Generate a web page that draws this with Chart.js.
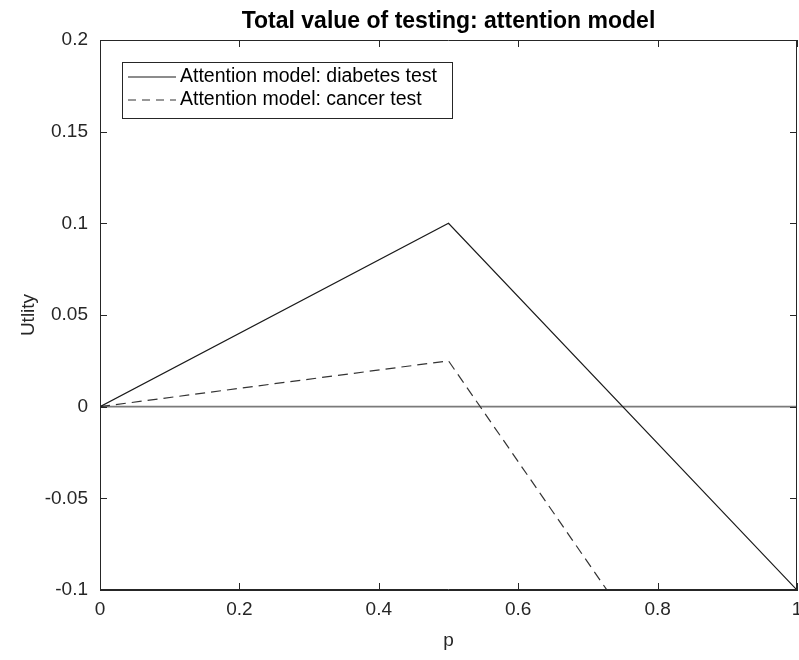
<html>
<head>
    <title>Total value of testing</title>
    <script src="https://cdn.jsdelivr.net/npm/chart.js"></script>
    <style>
        body { margin: 0; background: #fff; }
    </style>
</head>
<body>
    <canvas id="valueChart" width="799" height="660"></canvas>

    <script>
        // utility of testing vs prior probability p
        const pValues = [0, 0.5, 1];
        const diabetesUtility = [0, 0.1, -0.1];
        const cancerUtility = [0, 0.025, -0.25];
        const zeroLine = [0, 0, 0];

        const xTicks = [0, 0.2, 0.4, 0.6, 0.8, 1];
        const yTicks = [-0.1, -0.05, 0, 0.05, 0.1, 0.15, 0.2];

        const seriesNames = ['Attention model: diabetes test', 'Attention model: cancer test'];

        const fontFamily = "'Liberation Sans', Arial, Helvetica, sans-serif";
        const axisColor = '#262626';

        function toPoints(ys) {
            return pValues.map((p, i) => ({ x: p, y: ys[i] }));
        }

        // box around the axes with inward ticks on every side, plus the legend box
        const boxPlugin = {
            id: 'boxPlugin',
            afterDatasetsDraw(chart) {
                const ctx = chart.ctx;
                const area = chart.chartArea;
                const xs = chart.scales.x;
                const ys = chart.scales.y;
                const len = 7;

                ctx.save();
                ctx.strokeStyle = axisColor;
                ctx.lineWidth = 1;
                ctx.beginPath();
                ctx.rect(area.left + 0.5, area.top + 0.5, area.right - area.left - 1, area.bottom - area.top - 1);
                xTicks.forEach(v => {
                    const px = Math.round(xs.getPixelForValue(v)) + 0.5;
                    ctx.moveTo(px, area.bottom);
                    ctx.lineTo(px, area.bottom - len);
                    ctx.moveTo(px, area.top);
                    ctx.lineTo(px, area.top + len);
                });
                yTicks.forEach(v => {
                    const py = Math.round(ys.getPixelForValue(v)) + 0.5;
                    ctx.moveTo(area.left, py);
                    ctx.lineTo(area.left + len, py);
                    ctx.moveTo(area.right, py);
                    ctx.lineTo(area.right - len, py);
                });
                ctx.stroke();

                // legend
                const lx = area.left + 22;
                const ly = area.top + 22;
                const lw = 330;
                const lh = 56;
                ctx.fillStyle = '#fff';
                ctx.fillRect(lx, ly, lw, lh);
                ctx.strokeRect(lx + 0.5, ly + 0.5, lw, lh);

                ctx.font = '19.5px ' + fontFamily;
                ctx.textBaseline = 'middle';
                ctx.fillStyle = '#000';
                seriesNames.forEach((name, i) => {
                    const ds = chart.data.datasets[i];
                    const y = ly + 15 + i * 23;
                    ctx.beginPath();
                    ctx.strokeStyle = ds.borderColor;
                    ctx.lineWidth = ds.borderWidth;
                    ctx.setLineDash(ds.borderDash ? [8, 6] : []);
                    ctx.moveTo(lx + 6, y);
                    ctx.lineTo(lx + 54, y);
                    ctx.stroke();
                    ctx.setLineDash([]);
                    ctx.fillText(name, lx + 58, y);
                });
                ctx.restore();
            }
        };

        const ctx = document.getElementById('valueChart').getContext('2d');
        new Chart(ctx, {
            type: 'line',
            data: {
                datasets: [{
                    label: seriesNames[0],
                    data: toPoints(diabetesUtility),
                    borderColor: '#1a1a1a',
                    borderWidth: 1.2,
                    pointRadius: 0,
                    tension: 0
                }, {
                    label: seriesNames[1],
                    data: toPoints(cancerUtility),
                    borderColor: '#333333',
                    borderWidth: 1.2,
                    borderDash: [10, 6],
                    pointRadius: 0,
                    tension: 0
                }, {
                    label: 'zero',
                    data: toPoints(zeroLine),
                    borderColor: '#7a7a7a',
                    borderWidth: 1.6,
                    pointRadius: 0
                }]
            },
            options: {
                responsive: false,
                animation: false,
                layout: { padding: { right: 2 } },
                plugins: {
                    legend: { display: false },
                    tooltip: { enabled: false },
                    title: {
                        display: true,
                        fullSize: false,
                        text: 'Total value of testing: attention model',
                        color: '#000',
                        font: { family: fontFamily, size: 23, weight: 'bold', lineHeight: 1.2 },
                        padding: { top: 8, bottom: 4.4 }
                    }
                },
                scales: {
                    x: {
                        type: 'linear',
                        min: 0,
                        max: 1,
                        afterBuildTicks: scale => { scale.ticks = xTicks.map(v => ({ value: v })); },
                        afterFit: scale => {
                            scale.height = 70;
                            scale.paddingRight = 0;
                            scale.paddingLeft = 0;
                        },
                        grid: { drawOnChartArea: false, drawTicks: false },
                        border: { display: true, color: axisColor, width: 1 },
                        ticks: {
                            color: axisColor,
                            font: { family: fontFamily, size: 19 },
                            padding: 8,
                            maxRotation: 0,
                            callback: v => String(v)
                        },
                        title: {
                            display: true,
                            text: 'p',
                            color: axisColor,
                            font: { family: fontFamily, size: 19 },
                            padding: { top: 0, bottom: 8 }
                        }
                    },
                    y: {
                        min: -0.1,
                        max: 0.2,
                        afterBuildTicks: scale => { scale.ticks = yTicks.map(v => ({ value: v })); },
                        afterFit: scale => {
                            scale.width = 100;
                            scale.paddingTop = 0;
                            scale.paddingBottom = 0;
                        },
                        grid: { drawOnChartArea: false, drawTicks: false },
                        border: { display: true, color: axisColor, width: 1 },
                        ticks: {
                            color: axisColor,
                            font: { family: fontFamily, size: 19 },
                            padding: 12,
                            callback: v => String(v)
                        },
                        title: {
                            display: true,
                            text: 'Utlity',
                            color: axisColor,
                            font: { family: fontFamily, size: 19 },
                            padding: { top: 17, bottom: 0 }
                        }
                    }
                }
            },
            plugins: [boxPlugin]
        });
    </script>
</body>
</html>
